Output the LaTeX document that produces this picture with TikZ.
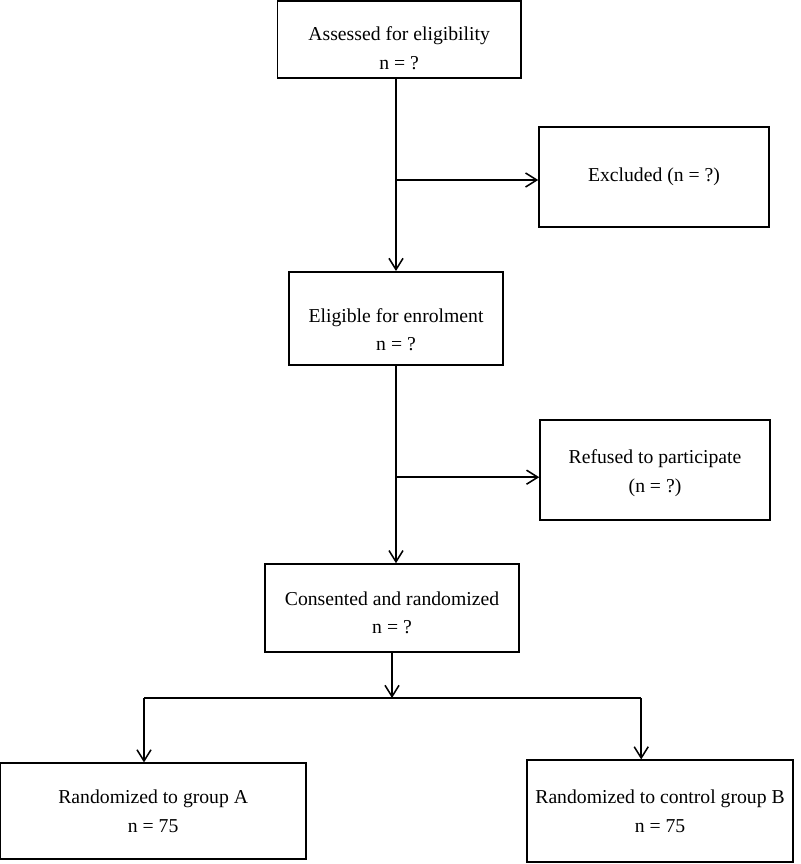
\documentclass[tikz,border=0pt]{standalone}
\usepackage{fontspec}
\setmainfont{Liberation Serif}
\usetikzlibrary{arrows.meta}

\tikzstyle{block} = [rectangle, draw=black, line width=1.1pt, align=center,
font=\fontsize{14}{20.5}\selectfont, inner sep=2pt]
\tikzstyle{arrow} = [line width=1.1pt,-{Straight Barb[length=8pt,width=10pt]}]
\tikzstyle{line} = [line width=1.1pt,-]
% pushes the text of a box down
\newcommand{\txtdrop}[1]{\rule{0pt}{#1}}

\begin{document}
\begin{tikzpicture}
    \useasboundingbox (0,0) rectangle (20,-21.6);

    \node (assess) [block, minimum width=6.08cm, minimum height=1.93cm] at (9.98,-0.99)
        {\txtdrop{22pt}Assessed for eligibility\\n = ?};
    \node (excl) [block, minimum width=5.75cm, minimum height=2.5cm] at (16.35,-4.43)
        {Excluded (n = ?)};
    \node (elig) [block, minimum width=5.35cm, minimum height=2.33cm] at (9.9,-7.96)
        {\txtdrop{26pt}Eligible for enrolment\\n = ?};
    \node (refus) [block, minimum width=5.75cm, minimum height=2.5cm] at (16.375,-11.75)
        {\txtdrop{14pt}Refused to participate\\(n = ?)};
    \node (cons) [block, minimum width=6.35cm, minimum height=2.2cm] at (9.8,-15.2)
        {\txtdrop{16.5pt}Consented and randomized\\n = ?};
    \node (grpa) [block, minimum width=7.65cm, minimum height=2.4cm] at (3.83,-20.28)
        {Randomized to group A\\n = 75};
    \node (grpb) [block, minimum width=6.65cm, minimum height=2.55cm] at (16.5,-20.28)
        {Randomized to control group B\\n = 75};

    \coordinate (br1) at (9.9,-4.5);
    \coordinate (br2) at (9.9,-11.93);
    \coordinate (split) at (9.8,-17.45);
    \coordinate (splitl) at (3.6,-17.45);
    \coordinate (splitr) at (16.03,-17.45);

    \draw [arrow] (assess.south -| br1) -- (elig.north -| br1);
    \draw [arrow] (br1) -- (br1 -| excl.west);
    \draw [arrow] (elig.south -| br2) -- (cons.north -| br2);
    \draw [arrow] (br2) -- (br2 -| refus.west);
    \draw [arrow] (cons.south -| split) -- (split);
    \draw [line] (splitl) -- (splitr);
    \draw [arrow] (splitl) -- (splitl |- grpa.north);
    \draw [arrow] (splitr) -- (splitr |- grpb.north);
\end{tikzpicture}
\end{document}
